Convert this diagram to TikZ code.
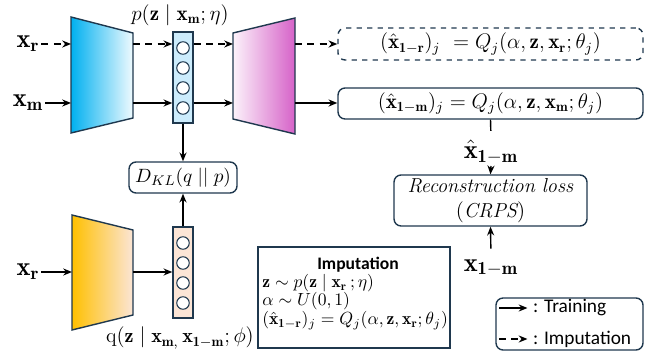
\documentclass[tikz,border=0pt]{standalone}
\usepackage{amsmath,amssymb}
\usepackage{fontspec}
\newfontfamily\legendfont{Carlito}
\usetikzlibrary{arrows.meta,positioning}

\definecolor{edgeblue}{RGB}{31,56,78}
\definecolor{encblue}{RGB}{0,176,240}
\definecolor{decpink}{RGB}{214,98,200}
\definecolor{encorange}{RGB}{255,192,0}
\definecolor{latblue}{RGB}{204,236,252}
\definecolor{latpeach}{RGB}{251,229,214}

\tikzset{
  >={Stealth[length=5pt,width=4pt]},
  conn/.style={line width=0.8pt,->},
  impconn/.style={conn,dash pattern=on 4pt off 3pt},
  latbox/.style={draw=edgeblue,line width=0.8pt,minimum width=0.4cm,
    minimum height=1.82cm,inner sep=0pt},
  unit/.style={circle,draw=edgeblue,fill=white,line width=0.6pt,
    minimum size=0.25cm,inner sep=0pt},
  eqbox/.style={draw=edgeblue,line width=0.8pt,rounded corners=4pt,
    inner sep=0pt,font=\fontsize{12}{14.5}\selectfont},
  coder/.style={draw=edgeblue,line width=0.8pt},
  midlbl/.style={font=\fontsize{12}{14.5}\selectfont},
  biglbl/.style={font=\fontsize{15}{18}\selectfont,inner sep=1pt},
  impline/.style={anchor=west,inner sep=0pt,text height=1.6ex,text depth=0.3ex},
  legtext/.style={font=\legendfont\fontsize{11}{13}\selectfont,anchor=west,inner sep=1pt}
}

\begin{document}
\begin{tikzpicture}[x=0.02cm,y=-0.02cm]
\useasboundingbox (0,0) rectangle (665,354);

% encoder / decoder (top)
\shadedraw[coder,left color=encblue,right color=encblue!6]
  (71,17) -- (133,33) -- (133,118) -- (71,133) -- cycle;
\shadedraw[coder,left color=decpink!8,right color=decpink]
  (233,33) -- (295,18) -- (295,134) -- (233,119) -- cycle;
\coordinate (e1in) at (71,44);
\coordinate (e1inm) at (71,103);
\coordinate (e1out) at (133,44);
\coordinate (e1outm) at (133,103);
\coordinate (d1in) at (233,44);
\coordinate (d1inm) at (233,103);
\coordinate (d1out) at (295,44);
\coordinate (d1outm) at (295,103);

% latent p
\node[latbox,fill=latblue] (latP) at (183,77.5) {};
\foreach \k [count=\i] in {48,68,88,108}
  \node[unit] (p\i) at (183,\k) {};
\node[midlbl] (pLab) at (180,15) {$p(\mathbf{z}\mid\mathbf{x}_{\mathbf{m}};\eta)$};

\node[biglbl] (xr1) at (28,44) {$\mathbf{x}_{\mathbf{r}}$};
\node[biglbl] (xm) at (28,103) {$\mathbf{x}_{\mathbf{m}}$};

% outputs
\node[eqbox,dashed,minimum width=6.1cm,minimum height=0.64cm] (outR) at (490.5,44)
  {$(\hat{\mathbf{x}}_{\mathbf{1-r}})_j\ = Q_j(\alpha,\mathbf{z},\mathbf{x}_{\mathbf{r}};\theta_j)$};
\node[eqbox,minimum width=6.1cm,minimum height=0.62cm] (outM) at (490.5,103.5)
  {$(\hat{\mathbf{x}}_{\mathbf{1-m}})_j = Q_j(\alpha,\mathbf{z},\mathbf{x}_{\mathbf{m}};\theta_j)$};

\draw[impconn] (xr1.east|-e1in) -- (e1in);
\draw[impconn] (e1out) -- (latP.west|-e1out);
\draw[impconn] (latP.east|-e1out) -- (d1in);
\draw[impconn] (d1out) -- (outR.west|-d1out);
\draw[conn] (xm.east|-e1inm) -- (e1inm);
\draw[conn] (e1outm) -- (latP.west|-e1outm);
\draw[conn] (latP.east|-e1outm) -- (d1inm);
\draw[conn] (d1outm) -- (outM.west|-d1outm);

% KL
\node[eqbox,font=\fontsize{11}{13.5}\selectfont,minimum width=2.16cm,minimum height=0.62cm] (dkl) at (183,177.5)
  {$D_{KL}(q\;||\;p)$};
\draw[conn] (latP.south) -- (dkl.north);

% encoder (bottom)
\shadedraw[coder,left color=encorange,right color=latpeach]
  (72,215) -- (133,230) -- (133,315) -- (72,330) -- cycle;
\coordinate (e2in) at (72,272);
\coordinate (e2out) at (133,272);
\node[latbox,fill=latpeach] (latQ) at (183,272.5) {};
\foreach \k [count=\i] in {243,263,283,303}
  \node[unit] (q\i) at (183,\k) {};
\node[biglbl] (xr2) at (28,272) {$\mathbf{x}_{\mathbf{r}}$};
\node[midlbl,font=\fontsize{11.5}{14}\selectfont] (qLab) at (180,338)
  {$\mathrm{q}(\mathbf{z}\mid\mathbf{x}_{\mathbf{m},}\,\mathbf{x}_{\mathbf{1-m}};\phi)$};
\draw[conn] (xr2.east|-e2in) -- (e2in);
\draw[conn] (e2out) -- (latQ.west|-e2out);
\draw[conn] (latQ.north) -- (dkl.south);

% loss
\node[biglbl] (xhat) at (491,152) {$\hat{\mathbf{x}}_{\mathbf{1-m}}$};
\node[eqbox,font=\fontsize{11.5}{14.5}\selectfont,minimum width=3.86cm,minimum height=1.02cm,align=center] (recon) at (490.5,200.5)
  {\textit{Reconstruction loss}\\$(\mathit{CRPS})$};
\node[biglbl] (xlm) at (491,268) {$\mathbf{x}_{\mathbf{1-m}}$};
\draw[line width=0.8pt,shorten >=4pt] (outM.south) -- (xhat.north);
\draw[conn] (xhat.south) -- (recon.north);
\draw[conn,shorten <=5pt] (xlm.north) -- (recon.south);

% imputation
\node[draw=edgeblue,line width=0.8pt,minimum width=3.84cm,minimum height=2.02cm] (impBox) at (354,297.5) {};
\node[font=\legendfont\bfseries] (impT) at (358,265) {Imputation};
\node[impline] (imp1) at (262,283) {$\mathbf{z}\sim p(\mathbf{z}\mid\mathbf{x}_{\mathbf{r}}\,;\eta)$};
\node[impline] (imp2) at (262,301) {$\alpha\sim U(0,1)$};
\node[impline] (imp3) at (262,320) {$(\hat{\mathbf{x}}_{\mathbf{1-r}})_j = Q_j(\alpha,\mathbf{z},\mathbf{x}_{\mathbf{r}};\theta_j)$};

% legend
\node[eqbox,minimum width=2.94cm,minimum height=1.04cm] (legend) at (569.5,324) {};
\node[legtext] (legT) at (531,308) {: Training};
\node[legtext] (legI) at (531,339) {: Imputation};
\coordinate (lgA) at (499,308);
\coordinate (lgB) at (499,339);
\draw[conn,shorten >=2pt] (lgA) -- (legT.west);
\draw[impconn,shorten >=2pt] (lgB) -- (legI.west);
\end{tikzpicture}
\end{document}
